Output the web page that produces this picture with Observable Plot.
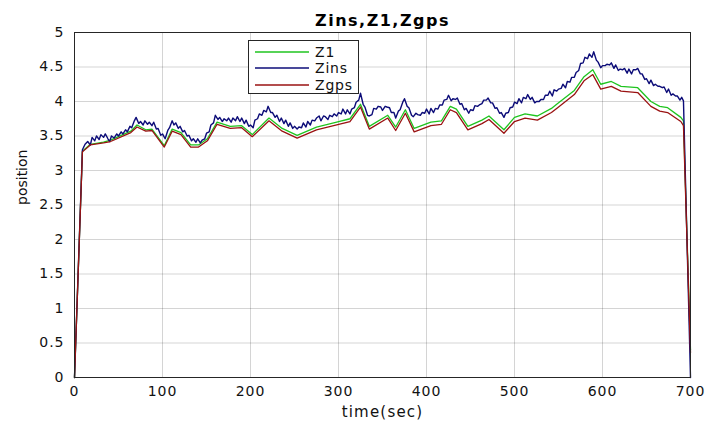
<!DOCTYPE html>
<html>
<head>
<meta charset="utf-8">
<script src="https://cdn.jsdelivr.net/npm/d3@7"></script>
<script src="https://cdn.jsdelivr.net/npm/@observablehq/plot@0.6"></script>
<style>
  html, body { margin: 0; padding: 0; background: #fff; }
  #wrap { position: relative; width: 707px; height: 422px; font-family: "DejaVu Sans", sans-serif; }
  #legend { position: absolute; left: 248px; top: 40px; width: 109px; height: 52px;
            border: 1px solid #262626; background: #fff; }
  #legend .row { position: absolute; left: 6px; height: 17px; display: flex; align-items: center; }
  #legend .row span { font-size: 14px; letter-spacing: 0.8px; color: #111; margin-left: 6px; }
</style>
</head>
<body>
<div id="wrap"></div>
<script>
// Smoothed estimates: Zgps and Z1 share the same time stamps
const tGps = [0, 9, 18, 33, 41, 64, 71, 81, 88, 102, 111, 121, 132, 141, 151, 162, 177, 190, 202, 221, 236, 253, 275, 298, 313, 325, 335, 356, 365, 376, 386, 405, 417, 427, 434, 447, 463, 471, 488, 500, 512, 526, 542, 549, 568, 579, 589, 598, 610, 621, 640, 655, 665, 674, 689, 692, 700];
const zGps = [0, 3.27, 3.37, 3.40, 3.42, 3.55, 3.63, 3.57, 3.58, 3.34, 3.57, 3.52, 3.34, 3.34, 3.43, 3.67, 3.61, 3.62, 3.49, 3.72, 3.57, 3.47, 3.59, 3.66, 3.71, 3.92, 3.60, 3.76, 3.58, 3.83, 3.56, 3.65, 3.67, 3.88, 3.84, 3.59, 3.68, 3.74, 3.54, 3.71, 3.76, 3.73, 3.84, 3.91, 4.10, 4.30, 4.39, 4.18, 4.22, 4.15, 4.13, 3.93, 3.86, 3.84, 3.71, 3.65, 0.36];
const z1 = [0, 3.28, 3.38, 3.41, 3.44, 3.57, 3.66, 3.59, 3.60, 3.36, 3.60, 3.55, 3.37, 3.37, 3.46, 3.70, 3.64, 3.65, 3.52, 3.76, 3.61, 3.51, 3.63, 3.70, 3.75, 3.96, 3.64, 3.80, 3.63, 3.88, 3.61, 3.70, 3.72, 3.93, 3.89, 3.64, 3.73, 3.79, 3.59, 3.77, 3.82, 3.79, 3.90, 3.97, 4.16, 4.36, 4.46, 4.25, 4.29, 4.22, 4.20, 4.00, 3.93, 3.91, 3.77, 3.72, 0.40];

// Raw INS altitude samples as [time, position] (noisy)
const zinsSamples = [[0,0],[9,3.30],[12,3.38],[15,3.42],[18,3.37],[20,3.48],[23,3.43],[25,3.50],[28,3.45],[30,3.52],[33,3.48],[35,3.53],[38,3.46],[40,3.42],[42,3.50],[45,3.47],[48,3.53],[50,3.50],[53,3.56],[55,3.53],[58,3.59],[60,3.56],[63,3.64],[65,3.62],[68,3.72],[70,3.77],[73,3.68],[75,3.71],[78,3.66],[80,3.72],[83,3.67],[85,3.70],[88,3.65],[90,3.70],[93,3.60],[95,3.61],[98,3.51],[100,3.53],[103,3.46],[106,3.58],[108,3.62],[111,3.72],[113,3.66],[115,3.69],[118,3.61],[120,3.64],[123,3.56],[125,3.58],[128,3.50],[130,3.51],[133,3.43],[135,3.46],[138,3.41],[140,3.46],[143,3.40],[145,3.44],[148,3.46],[150,3.54],[153,3.56],[155,3.66],[158,3.69],[160,3.80],[163,3.74],[165,3.77],[168,3.71],[170,3.75],[173,3.72],[175,3.76],[178,3.70],[180,3.76],[183,3.72],[185,3.78],[188,3.71],[190,3.76],[193,3.68],[195,3.73],[198,3.64],[200,3.66],[203,3.62],[205,3.73],[208,3.75],[210,3.82],[213,3.80],[215,3.87],[218,3.85],[220,3.93],[223,3.84],[225,3.84],[228,3.77],[230,3.80],[233,3.71],[235,3.76],[238,3.68],[240,3.73],[243,3.64],[245,3.69],[248,3.61],[250,3.64],[253,3.60],[255,3.63],[258,3.62],[260,3.69],[263,3.63],[265,3.71],[268,3.66],[270,3.73],[273,3.72],[275,3.76],[278,3.79],[280,3.72],[283,3.79],[285,3.78],[288,3.74],[290,3.80],[293,3.78],[295,3.82],[298,3.79],[300,3.84],[303,3.82],[305,3.89],[308,3.82],[310,3.88],[313,3.82],[315,3.89],[318,3.91],[320,3.99],[323,4.02],[325,4.12],[328,3.96],[330,3.92],[333,3.80],[335,3.79],[338,3.81],[340,3.90],[343,3.89],[345,3.93],[348,3.92],[350,3.87],[353,3.93],[355,3.92],[358,3.91],[360,3.84],[363,3.84],[365,3.76],[368,3.86],[370,3.88],[373,3.99],[375,4.04],[378,3.93],[380,3.91],[383,3.80],[385,3.78],[388,3.83],[390,3.81],[393,3.80],[395,3.84],[398,3.83],[400,3.89],[403,3.82],[405,3.90],[408,3.84],[410,3.90],[413,3.89],[415,3.95],[418,3.95],[420,4.02],[423,4.03],[425,4.09],[428,4.01],[430,4.04],[433,4.03],[435,4.05],[438,3.96],[440,3.97],[443,3.88],[445,3.90],[448,3.83],[450,3.88],[453,3.87],[455,3.94],[458,3.93],[460,3.95],[463,3.97],[465,4.02],[468,4.02],[470,4.05],[473,3.98],[475,3.98],[478,3.90],[480,3.91],[483,3.83],[485,3.84],[488,3.77],[490,3.83],[493,3.84],[495,3.91],[498,3.92],[500,3.99],[503,3.97],[505,4.04],[508,3.98],[510,4.06],[513,4.04],[515,4.10],[518,4.03],[520,4.06],[523,3.98],[525,4.00],[528,4.00],[530,4.03],[533,4.03],[535,4.09],[538,4.09],[540,4.15],[543,4.08],[545,4.17],[548,4.15],[550,4.18],[553,4.19],[555,4.25],[558,4.20],[560,4.29],[563,4.28],[565,4.35],[568,4.35],[570,4.42],[573,4.45],[575,4.55],[578,4.56],[580,4.64],[583,4.62],[585,4.69],[588,4.64],[590,4.72],[593,4.60],[595,4.57],[598,4.49],[600,4.52],[603,4.52],[605,4.54],[608,4.53],[610,4.56],[613,4.48],[615,4.53],[618,4.45],[620,4.47],[623,4.46],[625,4.48],[628,4.41],[630,4.47],[633,4.40],[635,4.46],[638,4.46],[640,4.48],[643,4.40],[645,4.40],[648,4.32],[650,4.33],[653,4.26],[655,4.31],[658,4.23],[660,4.25],[663,4.22],[665,4.22],[668,4.20],[670,4.21],[673,4.13],[675,4.18],[678,4.09],[680,4.11],[683,4.08],[685,4.08],[688,4.02],[690,4.06],[692,4.01],[700,0]];

const xTicks = [0, 100, 200, 300, 400, 500, 600, 700];
const yTicks = [0, 0.5, 1, 1.5, 2, 2.5, 3, 3.5, 4, 4.5, 5];

const series = [
  {name: "Z1", color: "#1fc41f"},
  {name: "Zins", color: "#0c0c78"},
  {name: "Zgps", color: "#9a1212"}
];

const rowsGps = tGps.map((t, i) => ({t, v: zGps[i]}));
const rowsZ1 = tGps.map((t, i) => ({t, v: z1[i]}));
const rowsIns = zinsSamples.map(([t, v]) => ({t, v}));

const ink = "#262626";

const chart = Plot.plot({
  width: 707,
  height: 422,
  marginLeft: 74,
  marginRight: 17,
  marginTop: 32,
  marginBottom: 45,
  style: {fontFamily: "DejaVu Sans, sans-serif", fontSize: "14px", color: ink, background: "#fff"},
  x: {domain: [0, 700]},
  y: {domain: [0, 5]},
  marks: [
    Plot.gridX(xTicks, {stroke: "#000", strokeOpacity: 0.17}),
    Plot.gridY(yTicks, {stroke: "#000", strokeOpacity: 0.17}),
    Plot.line(rowsZ1, {x: "t", y: "v", stroke: series[0].color, strokeWidth: 1.3}),
    Plot.line(rowsIns, {x: "t", y: "v", stroke: series[1].color, strokeWidth: 1.4}),
    Plot.line(rowsGps, {x: "t", y: "v", stroke: series[2].color, strokeWidth: 1.3}),
    Plot.frame({stroke: ink, strokeWidth: 1}),
    Plot.axisX(xTicks, {tickSize: 0, tickPadding: 9, label: null, fill: "#111"}),
    Plot.axisY(yTicks, {tickSize: 0, tickPadding: 10, label: null, tickFormat: d => String(d), fill: "#111"}),
    Plot.text(["Zins,Z1,Zgps"], {frameAnchor: "top", lineAnchor: "middle", dy: -12, fontWeight: "bold", fontSize: 16, fill: "#000"}),
    Plot.text(["time(sec)"], {frameAnchor: "bottom", lineAnchor: "middle", dy: 35, fontSize: 15, fill: "#111"}),
    Plot.text(["position"], {frameAnchor: "left", lineAnchor: "middle", dx: -52, rotate: -90, fontSize: 14, fill: "#111"})
  ]
});

// Slightly wider letter spacing for the axis and title text
d3.select(chart).selectAll("text").each(function() {
  const s = this.textContent;
  if (s === "Zins,Z1,Zgps") this.setAttribute("letter-spacing", "1.5px");
  else if (s === "time(sec)") this.setAttribute("letter-spacing", "1.2px");
  else if (s !== "position") this.setAttribute("letter-spacing", "1px");
});

const wrap = document.getElementById("wrap");
wrap.appendChild(chart);

// Legend box drawn on top of the axes
const legend = document.createElement("div");
legend.id = "legend";
series.forEach((s, i) => {
  const row = document.createElement("div");
  row.className = "row";
  row.style.top = (2 + i * 16.5) + "px";
  row.innerHTML = `<svg width="54" height="4"><line x1="0" y1="2" x2="54" y2="2" stroke="${s.color}" stroke-width="1.3"/></svg><span>${s.name}</span>`;
  legend.appendChild(row);
});
wrap.appendChild(legend);
</script>
</body>
</html>
